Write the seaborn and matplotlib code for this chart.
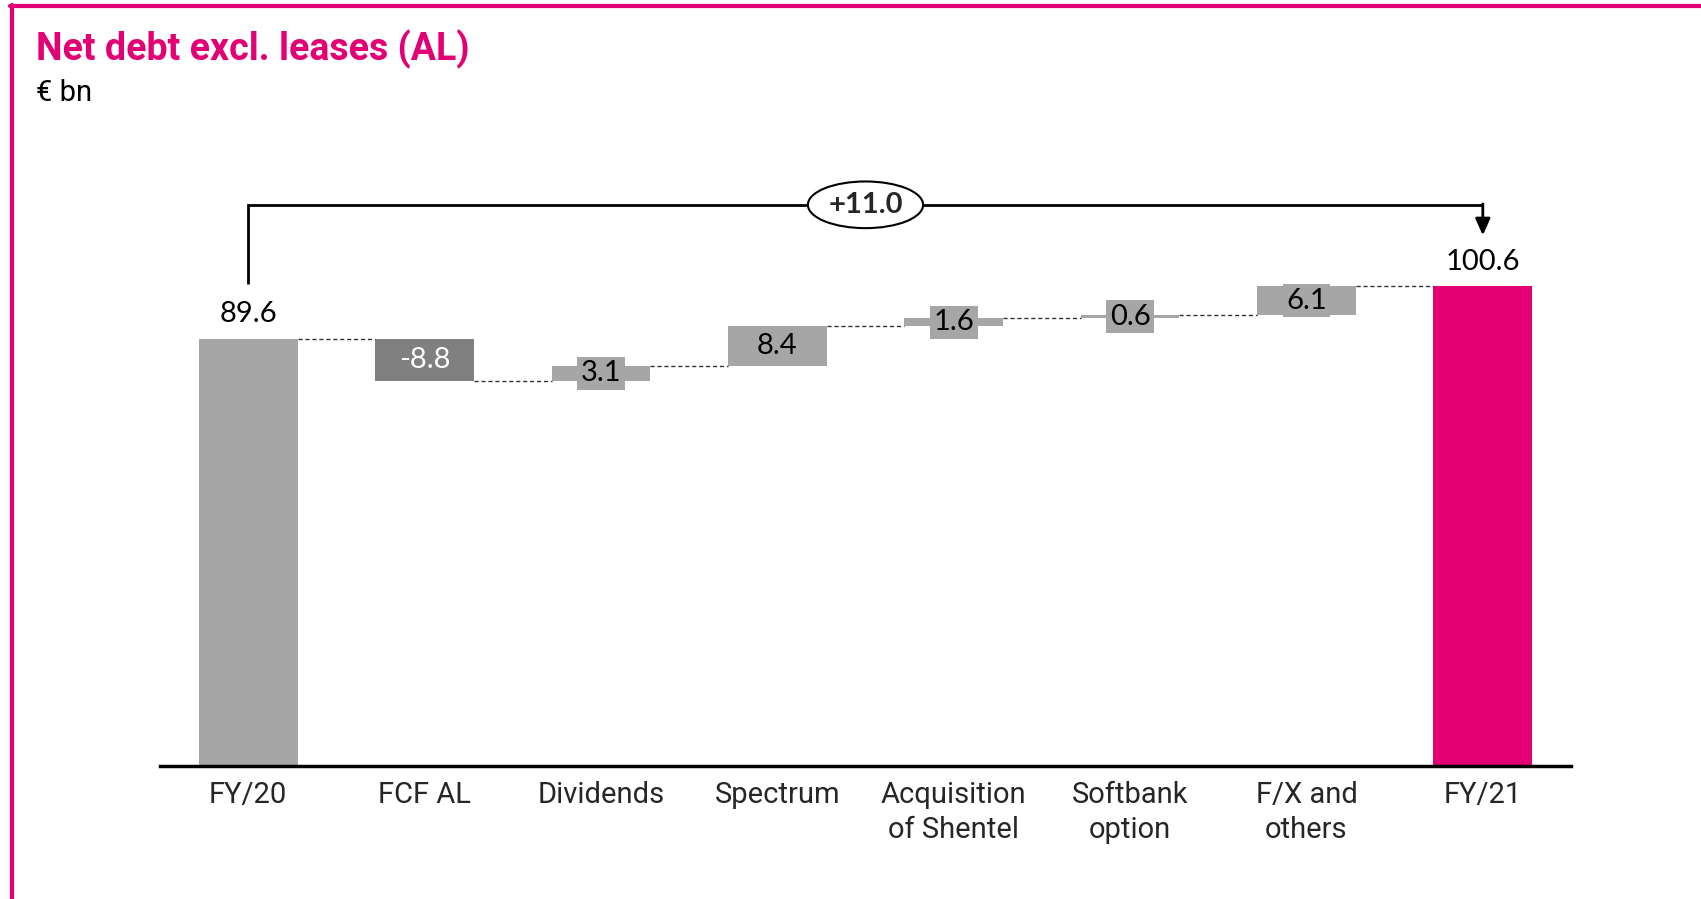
import numpy as np
import pandas as pd
import seaborn as sns
import matplotlib.pyplot as plt
from matplotlib.lines import Line2D

categories = ["FY/20", "FCF AL", "Dividends", "Spectrum", "Acquisition\nof Shentel",
              "Softbank\noption", "F/X and\nothers", "FY/21"]
values = [89.6, -8.8, 3.1, 8.4, 1.6, 0.6, 6.1, 100.6]
is_total = [True, False, False, False, False, False, False, True]

PINK = "#e20074"
GREY = "#a6a6a6"
DARK = "#808080"

# waterfall bottoms / heights
bottoms, heights = [], []
running = 0.0
for v, tot in zip(values, is_total):
    if tot:
        bottoms.append(0.0)
        heights.append(v)
        running = v
    else:
        bottoms.append(running)
        heights.append(v)
        running += v
colors = [PINK if (t and i == len(values) - 1) else (DARK if v < 0 else GREY)
          for i, (v, t) in enumerate(zip(values, is_total))]

df = pd.DataFrame({"cat": categories, "h": heights})

sns.set_style("white")
plt.rcParams["font.family"] = ["Roboto", "DejaVu Sans"]

fig = plt.figure(figsize=(17.01, 8.99), dpi=100)
ax = fig.add_axes([160 / 1701, 133 / 899, 1411 / 1701, 596 / 899])

W = 0.56
sns.barplot(data=df, x="cat", y="h", bottom=bottoms, width=W, color=GREY,
            errorbar=None, ax=ax, linewidth=0)
for p, c in zip(ax.patches, colors):
    p.set_facecolor(c)
    p.set_edgecolor("none")

ax.set_xlim(-0.5, 7.5)
ax.set_ylim(0, 125)
ax.set_xlabel("")
ax.set_ylabel("")
ax.set_yticks([])
for s in ["top", "right", "left"]:
    ax.spines[s].set_visible(False)
ax.spines["bottom"].set_color("black")
ax.spines["bottom"].set_linewidth(2.5)
ax.tick_params(axis="x", length=0, pad=11, labelsize=21)
for t in ax.get_xticklabels():
    t.set_linespacing(1.3)

# connectors
for i in range(len(values) - 1):
    level = bottoms[i] + heights[i]
    ax.plot([i + W / 2, i + 1 - W / 2], [level, level], ls=(0, (3, 2)),
            color="#333333", lw=1.0, zorder=1)

# labels
for i, (v, b, h, t) in enumerate(zip(values, bottoms, heights, is_total)):
    if t:
        ax.text(i, b + h + 5.1, f"{v:.1f}", ha="center", va="center",
                fontsize=21, family="Lato", color="black")
    else:
        tc = "white" if v < 0 else "black"
        ax.text(i, b + h / 2, f"{v:.1f}", ha="center", va="center",
                fontsize=21, family="Lato", color=tc, zorder=4,
                bbox=dict(boxstyle="square,pad=0.12", fc=colors[i], ec="none"))

# bracket with total change
top_y = 117.7
ax.plot([0, 0, 7], [101.1, top_y, top_y], color="black", lw=2, clip_on=False,
        solid_capstyle="butt", solid_joinstyle="miter")
ax.annotate("", xy=(7, 111.3), xytext=(7, top_y + 0.2),
            arrowprops=dict(arrowstyle="-|>,head_length=1.0,head_width=0.45",
                            color="black", lw=2, shrinkA=0, shrinkB=0),
            annotation_clip=False)
change = values[-1] - values[0]
ax.text(3.5, top_y, f"+{change:.1f}", ha="center", va="center", fontsize=21,
        fontweight="bold", family="Lato", zorder=5,
        bbox=dict(boxstyle="ellipse,pad=0.12", fc="white", ec="black", lw=1.5))

# title
fig.text(36 / 1701, 1 - 49 / 899, "Net debt excl. leases (AL)", color=PINK,
         fontsize=27, fontweight="bold", ha="left", va="center")
fig.text(36 / 1701, 1 - 93 / 899, "€ bn", color="black", fontsize=21,
         ha="left", va="center")

# frame lines
fig.add_artist(Line2D([10 / 1701, 1], [1 - 6 / 899, 1 - 6 / 899],
                      color=PINK, lw=3, transform=fig.transFigure))
fig.add_artist(Line2D([11.5 / 1701, 11.5 / 1701], [0, 1 - 4.5 / 899],
                      color=PINK, lw=3, transform=fig.transFigure))

fig.savefig("out.png", dpi=100)
